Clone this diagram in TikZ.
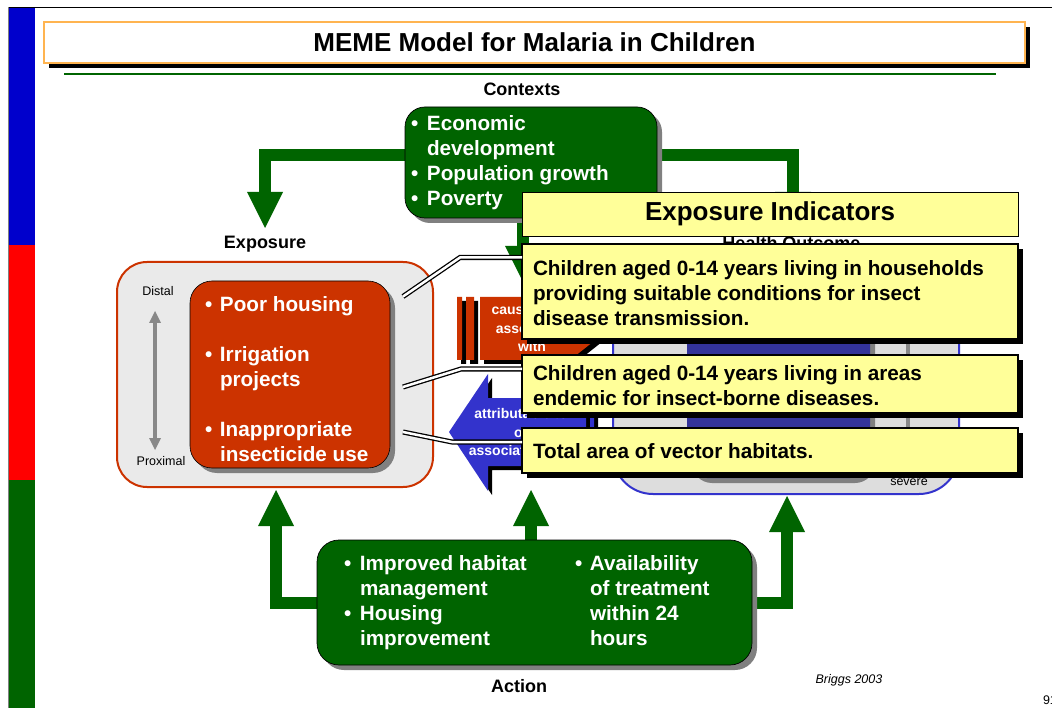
\documentclass[tikz,border=0pt]{standalone}
\usepackage{fontspec}
\setmainfont{Liberation Sans}
\usetikzlibrary{arrows.meta,shadows}
\definecolor{dkgreen}{RGB}{0,100,0}
\definecolor{barblue}{RGB}{0,0,204}
\definecolor{barred}{RGB}{255,0,0}
\definecolor{rust}{RGB}{204,51,0}
\definecolor{arrblue}{RGB}{51,51,204}
\definecolor{navytwo}{RGB}{51,51,153}
\definecolor{ltyellow}{RGB}{255,255,153}
\definecolor{ltorange}{RGB}{255,180,80}
\definecolor{panelgray}{RGB}{234,234,234}
\definecolor{hogray}{RGB}{221,221,221}
\definecolor{arrgray}{RGB}{136,136,136}
\definecolor{shadowgray}{RGB}{128,128,128}
\begin{document}
\begin{tikzpicture}[x=1pt,y=-1pt,
  every node/.style={inner sep=0pt,outer sep=0pt},
  wtxt/.style={font={\fontsize{20.7}{25}\selectfont\bfseries},text=white,anchor=base west},
  ytxt/.style={font={\fontsize{20.7}{25}\selectfont\bfseries},text=black,anchor=base west},
  lbl/.style={font={\fontsize{18}{22}\selectfont\bfseries}},
  arrtxt/.style={font={\fontsize{14}{18.5}\selectfont\bfseries},text=white,align=center},
  smalltxt/.style={font={\fontsize{12.5}{15}\selectfont}},
  garrow/.style={draw=dkgreen,line width=12pt,line join=miter,-{Triangle[width=36pt,length=36pt,line width=0pt]}},
  grayarr/.style={draw=arrgray,line width=3.5pt,{Triangle[width=12pt,length=12pt,line width=0pt]}-{Triangle[width=12pt,length=12pt,line width=0pt]}},
  gshadow/.style={drop shadow={shadow xshift=5pt,shadow yshift=-5pt,fill=shadowgray,opacity=1}},
  kshadow/.style={drop shadow={shadow xshift=5pt,shadow yshift=-5pt,fill=black,opacity=1}},
  greenbox/.style={draw=black,line width=0.7pt,fill=dkgreen,rounded corners=20pt,gshadow},
  ybox/.style={draw=black,line width=2.5pt,fill=ltyellow,minimum width=496pt,kshadow},
  conn/.style={draw=black,line width=1.3pt,double=white,double distance=2.5pt,line join=miter},
]
\useasboundingbox (0,0) rectangle (1052,708);
\fill[white] (0,0) rectangle (1052,708);
% frame and colour bar
\fill[barblue] (8,8) rectangle (35,245);
\fill[barred] (8,245) rectangle (35,480);
\fill[dkgreen] (8,480) rectangle (35,708);
\draw[black,line width=1pt] (8,7.5) -- (1052,7.5);
\draw[shadowgray,line width=1pt] (8,7.5) -- (8,708);
% title
\node[draw=ltorange,line width=1.3pt,fill=white,minimum width=981pt,minimum height=41pt,kshadow,
      font={\fontsize{26}{30}\selectfont\bfseries}] (title) at (534.5,42.5) {MEME Model for Malaria in Children};
\draw[dkgreen,line width=2.2pt] (64,74) -- (996,74);

% labels
\node[lbl] (lctx) at (522,89) {Contexts};
\node[lbl] (lexp) at (265,244) {Exposure};
\node[lbl] (lho) at (791.5,243) {Health Outcome};
\node[lbl] (lact) at (519,686) {Action};

% green arrows (behind boxes)
\coordinate (ctxbox) at (531,162.5);
\coordinate (actbox) at (534.5,602.5);
\node[minimum width=252pt,minimum height=111pt] (ctxg) at (ctxbox) {};
\node[minimum width=435pt,minimum height=125pt] (actg) at (actbox) {};
\coordinate (expTip) at (265,228);
\coordinate (hoTip) at (793,228);
\coordinate (midTip) at (523,282);
\draw[garrow] ([yshift=7.5pt]ctxg.west) -| (expTip);
\draw[garrow] ([yshift=7.5pt]ctxg.east) -| (hoTip);
\draw[garrow] (ctxg.south -| midTip) -- (midTip);
\coordinate (aL) at (276,490);
\coordinate (aM) at (531,490);
\coordinate (aR) at (787,496);
\draw[garrow] (actg.west) -| (aL);
\draw[garrow] (actg.north -| aM) -- (aM);
\draw[garrow] (actg.east) -| (aR);

% contexts box
\node[greenbox,minimum width=252pt,minimum height=111pt] (ctx) at (ctxbox) {};
\node[wtxt] (ctxtxt) at (411,130.5) {\begin{tabular}[t]{@{}p{16pt}@{}l@{}}\textbullet & Economic\\ & development\\ \textbullet & Population growth\\ \textbullet & Poverty\end{tabular}};

% action box
\node[greenbox,rounded corners=22pt,minimum width=435pt,minimum height=125pt] (act) at (actbox) {};
\node[wtxt] (acttxtl) at (344,570.5) {\begin{tabular}[t]{@{}p{16pt}@{}l@{}}\textbullet & Improved habitat\\ & management\\ \textbullet & Housing\\ & improvement\end{tabular}};
\node[wtxt] (acttxtr) at (575,570.5) {\begin{tabular}[t]{@{}p{15pt}@{}l@{}}\textbullet & Availability\\ & of treatment\\ & within 24\\ & hours\end{tabular}};

% exposure panel
\node[draw=rust,line width=2pt,fill=panelgray,rounded corners=30pt,minimum width=316pt,minimum height=225pt] (expo) at (275,374.5) {};
\node[draw=black,line width=0.6pt,fill=rust,rounded corners=22pt,minimum width=200pt,minimum height=187pt,gshadow] (expin) at (290,374.5) {};
\node[wtxt] (e1) at (205,311.5) {\begin{tabular}[t]{@{}p{15pt}@{}l@{}}\textbullet & Poor housing\end{tabular}};
\node[wtxt] (e2) at (205,361.5) {\begin{tabular}[t]{@{}p{15pt}@{}l@{}}\textbullet & Irrigation\\ & projects\end{tabular}};
\node[wtxt] (e3) at (205,436.5) {\begin{tabular}[t]{@{}p{15pt}@{}l@{}}\textbullet & Inappropriate\\ & insecticide use\end{tabular}};
\node[smalltxt] (distal) at (158,291) {Distal};
\node[smalltxt] (proximal) at (161,461) {Proximal};
\coordinate (dtop) at (155,311);
\coordinate (dbot) at (155,450);
\draw[grayarr] (dtop) -- (dbot);

% health outcome panel
\node[draw=arrblue,line width=2pt,fill=hogray,rounded corners=40pt,minimum width=346pt,minimum height=232pt] (hout) at (786,378) {};
\node[fill=navytwo,rounded corners=20pt,minimum width=183pt,minimum height=197pt,gshadow] (hin) at (778.5,379.5) {};
\coordinate (htop) at (908,300);
\coordinate (hbot) at (908,466);
\draw[grayarr] (htop) -- (hbot);
\node[smalltxt] (severe) at (909,482) {severe};

% causal arrow (red, pointing right)
\fill[black,shift={(4,4)}] (457,297) rectangle (462,360) (466,297) rectangle (474,360)
   (480,297) -- (570,297) -- (610,328.5) -- (570,360) -- (480,360) -- cycle;
\fill[rust] (457,297) rectangle (462,360) (466,297) rectangle (474,360)
   (480,297) -- (570,297) -- (610,328.5) -- (570,360) -- (480,360) -- cycle;
\node[arrtxt] (rtxt) at (532,328) {causes or is\\associated\\with};

% attribution arrow (blue, pointing left)
\fill[black,shift={(4,4)}] (449,432) -- (488,374) -- (488,398) -- (586,398) -- (586,466) -- (488,466) -- (488,491) -- cycle
   (590,398) rectangle (594,466);
\fill[arrblue] (449,432) -- (488,374) -- (488,398) -- (586,398) -- (586,466) -- (488,466) -- (488,491) -- cycle
   (590,398) rectangle (594,466);
\node[arrtxt] (btxt) at (521,432) {attributable to\\or\\associated with};

% yellow callouts
\node[draw=black,line width=0.8pt,fill=ltyellow,minimum width=496pt,minimum height=44pt,
      font={\fontsize{26}{30}\selectfont\bfseries}] (yt) at (770,214) {Exposure Indicators};
\node[ybox,minimum height=95pt] (y1) at (770,291.5) {};
\node[ybox,minimum height=58pt] (y2) at (770,384) {};
\node[ybox,minimum height=45pt] (y3) at (770,450.5) {};
\node[ytxt] (y1t) at (533,275.5) {\begin{tabular}[t]{@{}l@{}}Children aged 0-14 years living in households\\ providing suitable conditions for insect\\ disease transmission.\end{tabular}};
\node[ytxt] (y2t) at (533,380.5) {\begin{tabular}[t]{@{}l@{}}Children aged 0-14 years living in areas\\ endemic for insect-borne diseases.\end{tabular}};
\node[ytxt] (y3t) at (533,458.5) {Total area of vector habitats.};

% callout connectors
\coordinate (c1a) at (403,296.5);
\coordinate (c1b) at (460,257.5);
\coordinate (c2a) at (403,387);
\coordinate (c2b) at (461,369);
\coordinate (c3a) at (403,432);
\coordinate (c3b) at (452,442);
\draw[conn] (c1a) -- (c1b) -- (c1b -| y1.west);
\draw[conn] (c2a) -- (c2b) -- (c2b -| y2.west);
\draw[conn] (c3a) -- (c3b) -- (c3b -| y3.west);

% credits
\node[smalltxt,font={\fontsize{12.5}{15}\selectfont\itshape}] (brg) at (849,680) {Briggs 2003};
\node[smalltxt,anchor=west] (pg) at (1043,700) {91};
\end{tikzpicture}
\end{document}
